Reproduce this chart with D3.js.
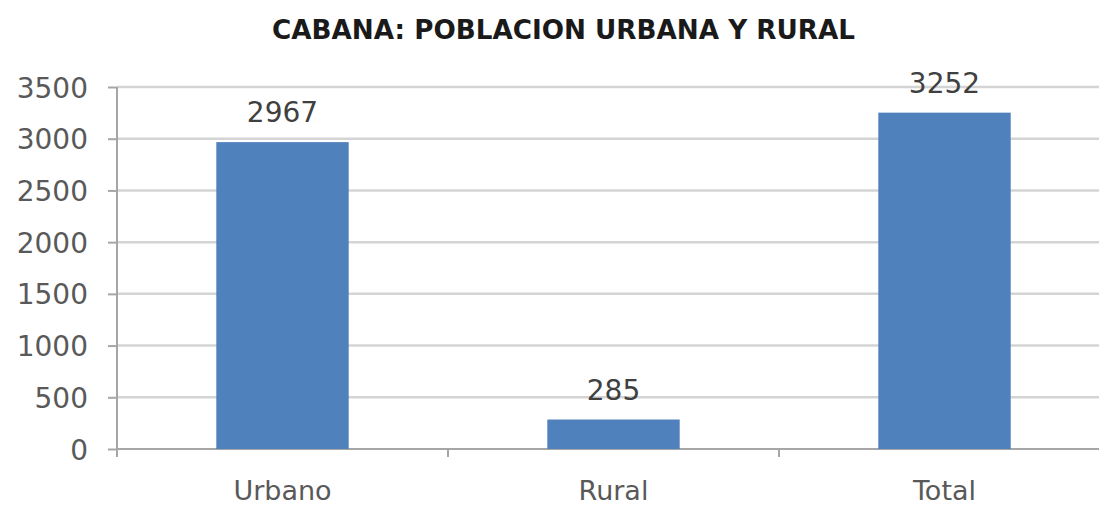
<!DOCTYPE html>
<html><head><meta charset="utf-8">
<script src="https://cdn.jsdelivr.net/npm/d3@7"></script>
<style>body{margin:0;background:#fff}svg{display:block}</style>
</head><body>
<svg id="c" width="1099" height="509"></svg>
<script>
const categories = ["Urbano", "Rural", "Total"];
const values = [2967, 285, 3252];
const yTicks = [0, 500, 1000, 1500, 2000, 2500, 3000, 3500];
const title = "CABANA: POBLACION URBANA Y RURAL";

const svg = d3.select("#c");
const x0 = 117, x1 = 1110, yTop = 87, yBot = 449;
const x = d3.scaleBand().domain(categories).range([x0, x1]).paddingInner(0.6).paddingOuter(0.3);
const y = d3.scaleLinear().domain([0, 3500]).range([yBot, yTop]);
const font = "'DejaVu Sans', sans-serif";

// gridlines
svg.append("g").selectAll("line").data(yTicks.filter(d => d > 0)).join("line")
  .attr("x1", x0).attr("x2", 1099).attr("y1", d => y(d)).attr("y2", d => y(d))
  .attr("stroke", "#d4d4d4").attr("stroke-width", 2.5);

// y axis
const ya = svg.append("g").attr("transform", `translate(${x0},0)`)
  .call(d3.axisLeft(y).tickValues(yTicks).tickSize(9).tickPadding(20).tickFormat(d3.format("d")));
ya.select(".domain").attr("stroke", "#a6a6a6").attr("stroke-width", 2).attr("d", `M0,${yTop}V${yBot + 8}`);
ya.selectAll(".tick line").attr("stroke", "#a6a6a6").attr("stroke-width", 2);
ya.selectAll("text").attr("font-family", font).attr("font-size", 28).attr("fill", "#595959").attr("dy", "0.36em");

// x axis
const xa = svg.append("g").attr("transform", `translate(0,${yBot})`)
  .call(d3.axisBottom(x).tickSize(0).tickPadding(0));
xa.select(".domain").attr("stroke", "#a6a6a6").attr("stroke-width", 2).attr("d", `M${x0},0H1099`);
xa.selectAll("text").attr("font-family", font).attr("font-size", 27).attr("fill", "#595959")
  .attr("dy", null).attr("y", 51);
// category separators
svg.append("g").selectAll("line").data(categories.slice(1)).join("line")
  .attr("x1", d => x(d) - x.step() * x.paddingInner() / 2).attr("x2", d => x(d) - x.step() * x.paddingInner() / 2)
  .attr("y1", yBot).attr("y2", yBot + 8).attr("stroke", "#a6a6a6").attr("stroke-width", 2);

// bars
svg.append("g").selectAll("rect").data(values).join("rect")
  .attr("x", (d, i) => x(categories[i])).attr("width", x.bandwidth())
  .attr("y", d => y(d)).attr("height", d => yBot - y(d))
  .attr("fill", "#4f81bd");

// labels
svg.append("g").selectAll("text").data(values).join("text")
  .attr("x", (d, i) => x(categories[i]) + x.bandwidth() / 2)
  .attr("y", d => y(d) - 20).attr("text-anchor", "middle")
  .attr("font-family", font).attr("font-size", 28).attr("fill", "#404040")
  .text(d => d);

// title
svg.append("text").attr("x", 563.5).attr("y", 39).attr("text-anchor", "middle")
  .attr("font-family", "'DejaVu Sans', sans-serif").attr("font-weight", "bold").attr("font-size", 26)
  .attr("textLength", 583).attr("lengthAdjust", "spacingAndGlyphs")
  .attr("fill", "#1a1a1a").text(title);
</script>
</body></html>
